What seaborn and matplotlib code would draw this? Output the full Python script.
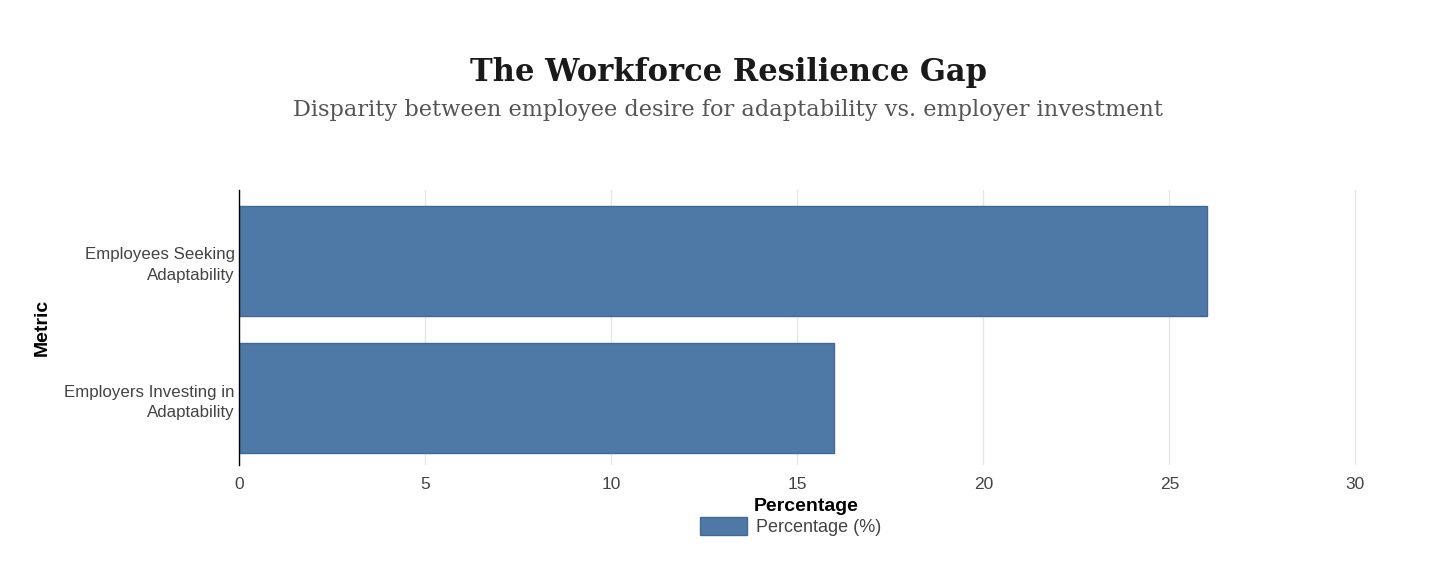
import pandas as pd
import seaborn as sns
import matplotlib.pyplot as plt
from matplotlib.patches import Patch

# Data
metrics = ['Employees Seeking\nAdaptability', 'Employers Investing in\nAdaptability']
percentages = [26, 16]
series_name = 'Percentage (%)'

df = pd.DataFrame({'Metric': metrics, 'Percentage': percentages})

sns.set_theme(style='white')
plt.rcParams['font.family'] = ['Liberation Sans', 'DejaVu Sans']

fig = plt.figure(figsize=(14.56, 5.69), dpi=100)
ax = fig.add_axes([0.1641, 0.1828, 0.9437 - 0.1641, 0.666 - 0.1828])

bar_color = '#4e79a7'
sns.barplot(data=df, x='Percentage', y='Metric', ax=ax, color=bar_color,
            width=0.8, edgecolor='#3f6a98', linewidth=1, saturation=1)

ax.set_xlim(0, 30.5)
ax.set_ylim(1.484, -0.516)
ax.set_xticks([0, 5, 10, 15, 20, 25, 30])
ax.grid(axis='x', color='#e6e6e6', linewidth=1)
ax.set_axisbelow(True)

for side in ['top', 'right', 'bottom']:
    ax.spines[side].set_visible(False)
ax.spines['left'].set_color('black')
ax.spines['left'].set_linewidth(1)

ax.tick_params(axis='both', length=0, labelsize=12.5, labelcolor='#444444')
ax.tick_params(axis='x', pad=9)
ax.tick_params(axis='y', pad=3, labelsize=12.2)
for lbl in ax.get_yticklabels():
    lbl.set_linespacing(1.45)
ax.set_xlabel('Percentage', fontsize=14, fontweight='bold', color='black', labelpad=4)
ax.set_ylabel('Metric', fontsize=14, fontweight='bold', color='black', labelpad=10)

# Titles
fig.text(0.5, 0.873, 'The Workforce Resilience Gap', ha='center', va='center',
         fontsize=22, fontweight='bold', color='#1a1a1a', family=['DejaVu Serif'])
fig.text(0.5, 0.807, 'Disparity between employee desire for adaptability vs. employer investment',
         ha='center', va='center', fontsize=16.2, color='#555555', family=['DejaVu Serif'])

# Legend
handles = [Patch(facecolor=bar_color, edgecolor='#3f6a98', label=series_name)]
fig.legend(handles=handles, loc='center', bbox_to_anchor=(0.543, 0.075), frameon=False,
           fontsize=13, labelcolor='#444444', handlelength=2.6, handleheight=1.2,
           handletextpad=0.5)

fig.savefig('out.png', dpi=100)
